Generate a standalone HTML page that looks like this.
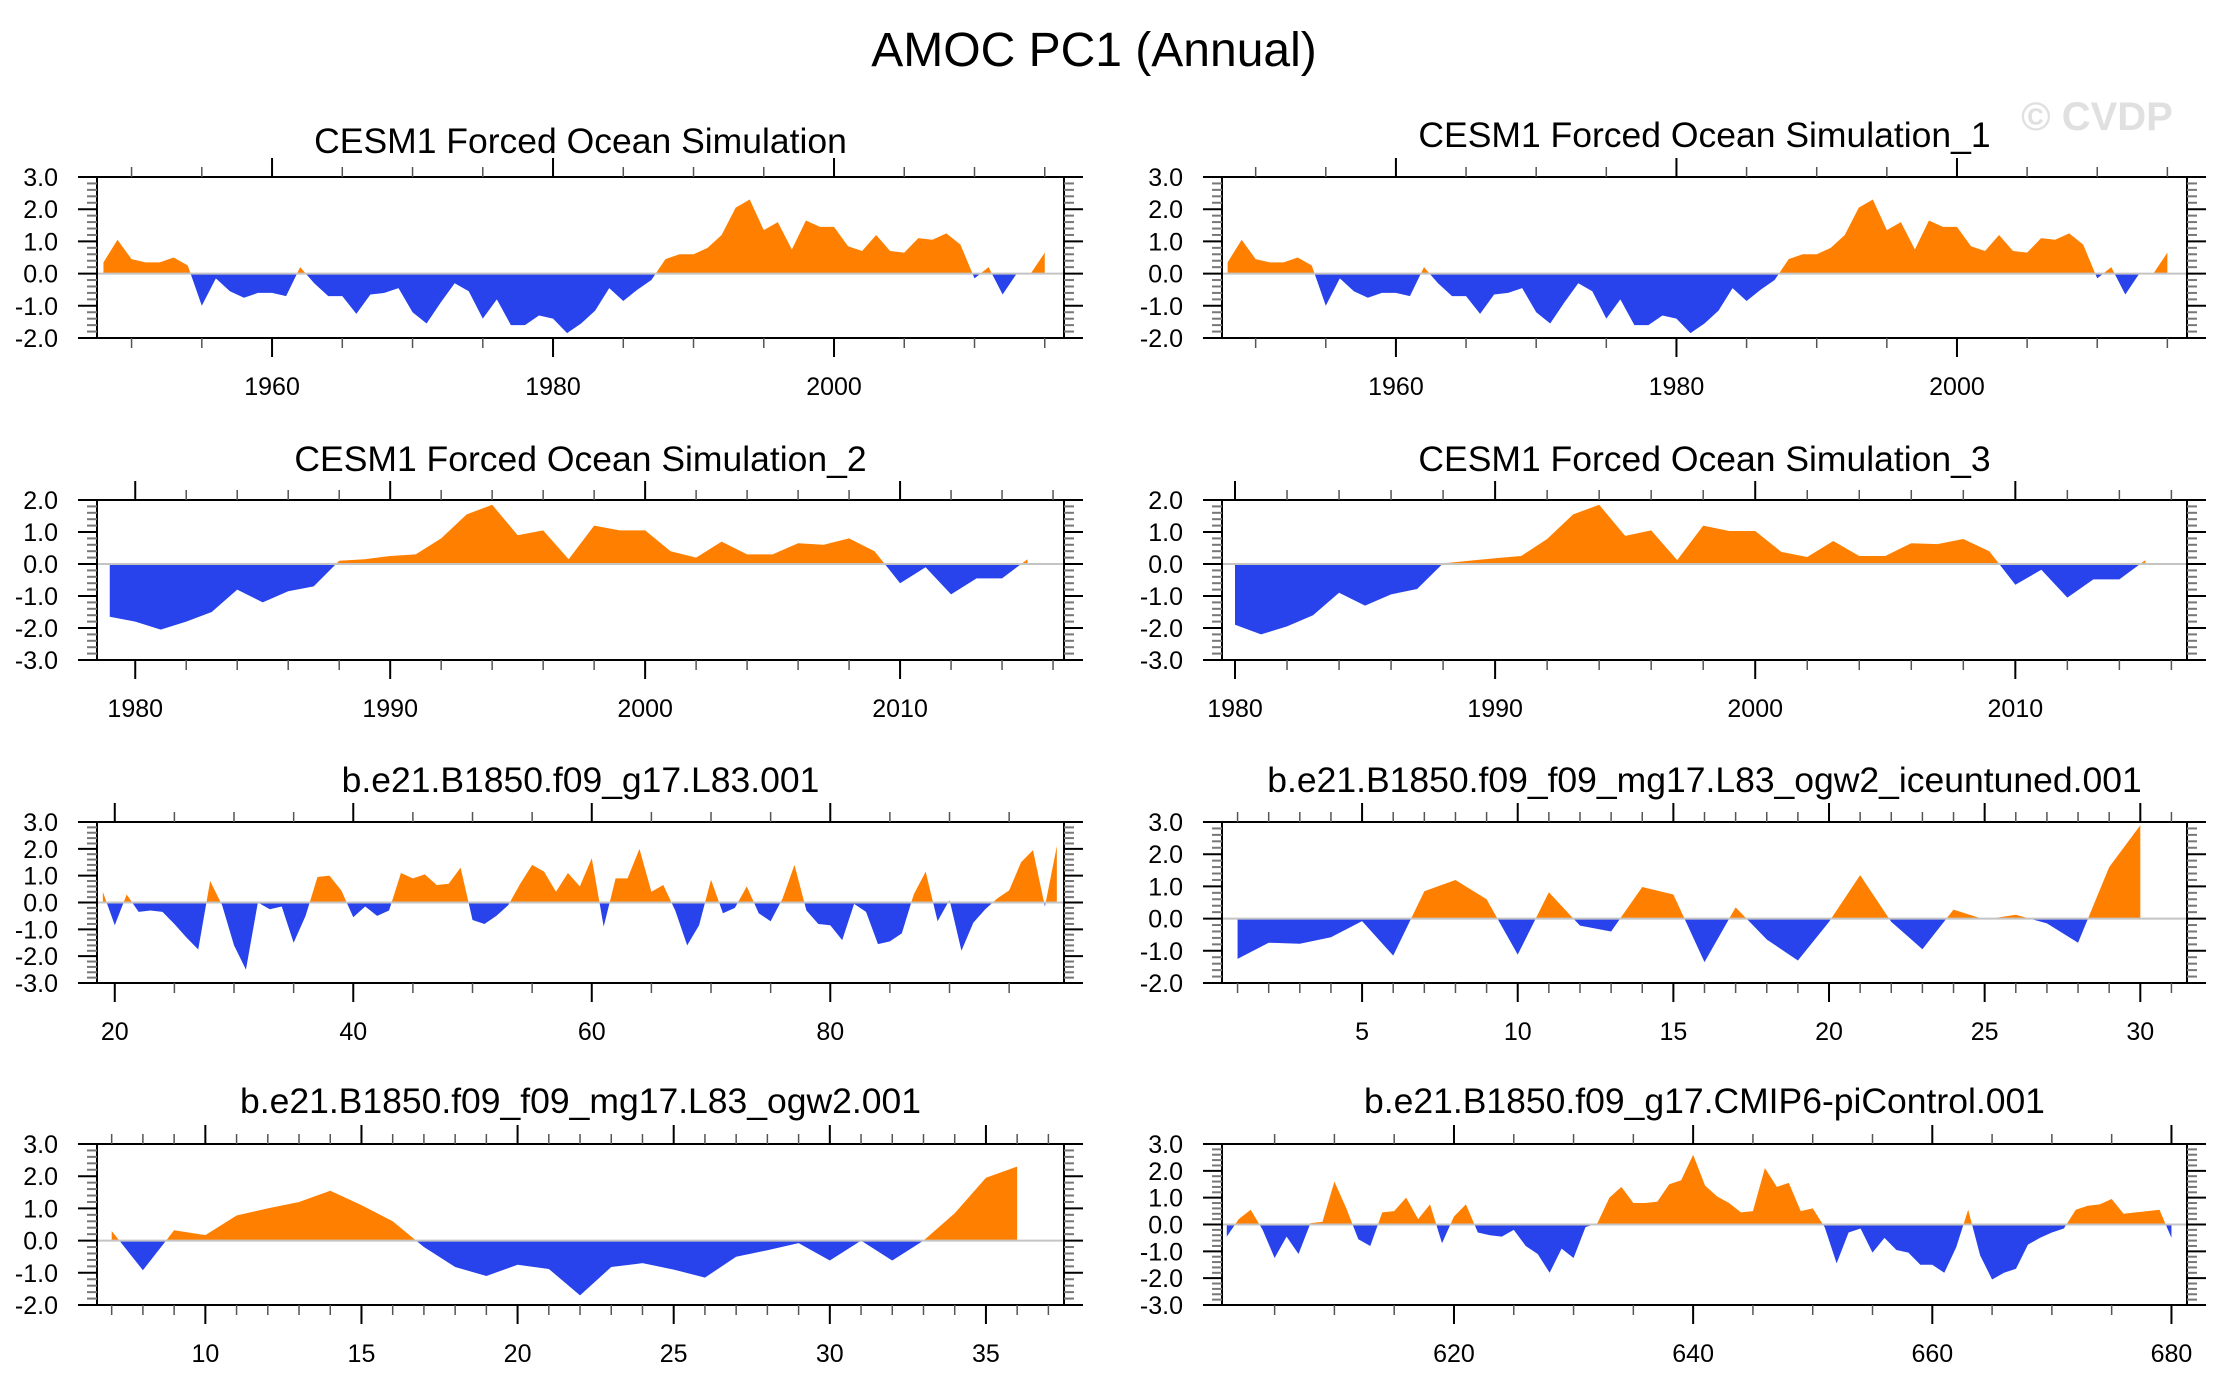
<!DOCTYPE html>
<html>
<head>
<meta charset="utf-8">
<style>
  html,body{margin:0;padding:0;background:#fff;}
  svg{display:block;font-family:"Liberation Sans",Arial,sans-serif;}
</style>
</head>
<body>
<svg id="chart" width="2224" height="1394" viewBox="0 0 2224 1394" xmlns="http://www.w3.org/2000/svg">
  <rect x="0" y="0" width="2224" height="1394" fill="#fff"/>
  <text x="1094" y="66" font-size="48" text-anchor="middle" fill="#000">AMOC PC1 (Annual)</text>
  <text x="2097" y="130" font-size="40" font-weight="bold" text-anchor="middle" fill="#e0e0e0">© CVDP</text>
</svg>
<script>
// ---- data ----
const p1Start = 1948;
const p1Values = [0.35,1.05,0.45,0.35,0.35,0.5,0.25,-1.0,-0.15,-0.55,-0.75,-0.6,-0.6,-0.7,0.2,-0.3,-0.7,-0.7,-1.25,-0.65,-0.6,-0.45,-1.2,-1.55,-0.9,-0.3,-0.55,-1.4,-0.8,-1.6,-1.6,-1.3,-1.4,-1.85,-1.55,-1.15,-0.45,-0.85,-0.5,-0.2,0.45,0.6,0.6,0.8,1.2,2.05,2.3,1.35,1.6,0.75,1.65,1.45,1.45,0.85,0.7,1.2,0.7,0.65,1.1,1.05,1.25,0.9,-0.15,0.2,-0.65,0.0,0.0,0.65];
const p2Start = 1948;
const p2Values = [0.35,1.05,0.45,0.35,0.35,0.5,0.25,-1.0,-0.15,-0.55,-0.75,-0.6,-0.6,-0.7,0.2,-0.3,-0.7,-0.7,-1.25,-0.65,-0.6,-0.45,-1.2,-1.55,-0.9,-0.3,-0.55,-1.4,-0.8,-1.6,-1.6,-1.3,-1.4,-1.85,-1.55,-1.15,-0.45,-0.85,-0.5,-0.2,0.45,0.6,0.6,0.8,1.2,2.05,2.3,1.35,1.6,0.75,1.65,1.45,1.45,0.85,0.7,1.2,0.7,0.65,1.1,1.05,1.25,0.9,-0.15,0.2,-0.65,0.0,0.0,0.65];
const p3Start = 1979;
const p3Values = [-1.65,-1.8,-2.05,-1.8,-1.5,-0.8,-1.2,-0.85,-0.7,0.1,0.15,0.25,0.3,0.8,1.55,1.85,0.9,1.05,0.15,1.2,1.05,1.05,0.4,0.2,0.7,0.3,0.3,0.65,0.6,0.8,0.4,-0.6,-0.1,-0.95,-0.45,-0.45,0.15];
const p4Start = 1980;
const p4Values = [-1.9,-2.2,-1.95,-1.6,-0.9,-1.3,-0.95,-0.78,0.02,0.1,0.18,0.25,0.78,1.55,1.85,0.88,1.05,0.12,1.2,1.03,1.03,0.38,0.22,0.72,0.25,0.25,0.65,0.62,0.78,0.4,-0.65,-0.18,-1.05,-0.48,-0.48,0.12];
const p5Start = 19;
const p5Values = [0.4,-0.85,0.3,-0.35,-0.3,-0.35,-0.8,-1.3,-1.75,0.8,-0.1,-1.6,-2.5,0.0,-0.25,-0.15,-1.5,-0.5,0.95,1.0,0.45,-0.55,-0.15,-0.5,-0.3,1.1,0.9,1.05,0.65,0.7,1.3,-0.65,-0.8,-0.5,-0.1,0.7,1.4,1.15,0.4,1.1,0.6,1.65,-0.9,0.9,0.9,2.0,0.4,0.65,-0.3,-1.6,-0.85,0.85,-0.4,-0.2,0.6,-0.4,-0.7,0.15,1.4,-0.3,-0.8,-0.85,-1.4,-0.05,-0.35,-1.55,-1.45,-1.15,0.3,1.15,-0.7,0.1,-1.8,-0.75,-0.25,0.15,0.45,1.5,1.95,-0.15,2.1];
const p6Start = 1;
const p6Values = [-1.25,-0.75,-0.78,-0.58,-0.08,-1.15,0.85,1.2,0.6,-1.12,0.82,-0.22,-0.4,0.98,0.75,-1.35,0.35,-0.65,-1.3,-0.1,1.35,-0.1,-0.95,0.28,-0.03,0.12,-0.15,-0.75,1.6,2.9];
const p7Start = 7;
const p7Values = [0.3,-0.92,0.32,0.17,0.78,1.0,1.2,1.55,1.1,0.6,-0.2,-0.82,-1.1,-0.75,-0.88,-1.7,-0.82,-0.7,-0.9,-1.15,-0.5,-0.3,-0.08,-0.62,0.0,-0.62,0.0,0.85,1.95,2.3];
const p8Start = 601;
const p8Values = [-0.45,0.2,0.55,-0.2,-1.25,-0.45,-1.1,0.05,0.1,1.6,0.6,-0.55,-0.8,0.45,0.5,1.0,0.2,0.75,-0.7,0.3,0.75,-0.3,-0.4,-0.45,-0.2,-0.8,-1.1,-1.8,-0.9,-1.25,-0.1,0.05,1.0,1.4,0.8,0.8,0.85,1.5,1.65,2.6,1.45,1.05,0.8,0.45,0.5,2.1,1.4,1.55,0.5,0.6,-0.1,-1.45,-0.3,-0.15,-1.05,-0.5,-0.95,-1.05,-1.5,-1.5,-1.8,-0.85,0.55,-1.15,-2.05,-1.8,-1.65,-0.75,-0.5,-0.3,-0.15,0.55,0.7,0.75,0.95,0.4,0.45,0.5,0.55,-0.5];

const p1XLabels = [1960,1980,2000];
const p3XLabels = [1980,1990,2000,2010];
const p5XLabels = [20,40,60,80];
const p6XLabels = [5,10,15,20,25,30];
const p7XLabels = [10,15,20,25,30,35];
const p8XLabels = [620,640,660,680];

const NS = "http://www.w3.org/2000/svg";
const svg = document.getElementById("chart");
function mk(tag, attrs, parent) {
  const e = document.createElementNS(NS, tag);
  for (const k in attrs) e.setAttribute(k, attrs[k]);
  (parent || svg).appendChild(e);
  return e;
}

function drawPanel(c, idx, start, values, xLabels) {
  const g = mk("g", {});
  
  
  const xs = v => c.x0 + (v - c.xmin) / (c.xmax - c.xmin) * (c.x1 - c.x0);
  const ys = v => c.y1 - (v - c.ymin) / (c.ymax - c.ymin) * (c.y1 - c.y0);
  const y0 = ys(0);

  // title
  const t = mk("text", {x: (c.x0 + c.x1) / 2, y: c.tb, "font-size": 35.5, "text-anchor": "middle", fill: "#000"}, g);
  
  
  t.textContent = c.title;

  // clip paths
  const defs = mk("defs", {}, g);
  const cpA = mk("clipPath", {id: "ca" + idx}, defs);
  mk("rect", {x: c.x0, y: c.y0, width: c.x1 - c.x0, height: y0 - c.y0}, cpA);
  const cpB = mk("clipPath", {id: "cb" + idx}, defs);
  mk("rect", {x: c.x0, y: y0, width: c.x1 - c.x0, height: c.y1 - y0}, cpB);

  let d = "M" + xs(start).toFixed(2) + "," + y0.toFixed(2);
  for (let i = 0; i < values.length; i++) d += " L" + xs(start + i).toFixed(2) + "," + ys(values[i]).toFixed(2);
  d += " L" + xs(start + values.length - 1).toFixed(2) + "," + y0.toFixed(2) + " Z";
  const pos = mk("path", {d: d, fill: "#ff8000", "clip-path": "url(#ca" + idx + ")"}, g);
  
  
  const neg = mk("path", {d: d, fill: "#2843eb", "clip-path": "url(#cb" + idx + ")"}, g);
  
  

  // zero line
  const zl = mk("line", {x1: c.x0, x2: c.x1, y1: y0, y2: y0, stroke: "#c4c4c4", "stroke-width": 2}, g);
  
  

  // frame
  const fr = mk("rect", {x: c.x0, y: c.y0, width: c.x1 - c.x0, height: c.y1 - c.y0, fill: "none", stroke: "#000", "stroke-width": 2}, g);
  
  

  // y ticks
  for (let v = c.ymin; v <= c.ymax + 1e-6; v += 0.2) {
    const r = Math.round(v * 10) / 10;
    const y = ys(r);
    const major = Math.abs(r - Math.round(r)) < 1e-6;
    const L = major ? 19 : 10;
    const col = major ? "#000" : "#777";
    mk("line", {x1: c.x0 - L, x2: c.x0, y1: y, y2: y, stroke: col, "stroke-width": 2}, g);
    mk("line", {x1: c.x1, x2: c.x1 + L, y1: y, y2: y, stroke: col, "stroke-width": 2}, g);
    if (major) {
      const lt = mk("text", {x: c.x0 - 39, y: y + 9, "font-size": 25, "text-anchor": "end", fill: "#000"}, g);
      
      
      lt.textContent = r.toFixed(1);
    }
  }
  // x minor ticks
  for (let v = c.mstart; v <= c.xmax; v += c.mstep) {
    const x = xs(v);
    mk("line", {x1: x, x2: x, y1: c.y0 - 10, y2: c.y0, stroke: "#555", "stroke-width": 1.5}, g);
    mk("line", {x1: x, x2: x, y1: c.y1, y2: c.y1 + 10, stroke: "#555", "stroke-width": 1.5}, g);
  }
  // x major ticks + labels
  for (const v of xLabels) {
    const x = xs(v);
    mk("line", {x1: x, x2: x, y1: c.y0 - 19, y2: c.y0, stroke: "#000", "stroke-width": 2}, g);
    mk("line", {x1: x, x2: x, y1: c.y1, y2: c.y1 + 19, stroke: "#000", "stroke-width": 2}, g);
    const lt = mk("text", {x: x, y: c.y1 + 57, "font-size": 25, "text-anchor": "middle", fill: "#000"}, g);
    
    
    lt.textContent = v;
  }
}

const L0 = 97, L1 = 1064, R0 = 1222, R1 = 2187;
drawPanel({slug:"cesm1-forced-ocean", title:"CESM1 Forced Ocean Simulation", tb:153, x0:L0, x1:L1, y0:177, y1:338, xmin:1947.54, xmax:2016.37, ymin:-2, ymax:3, mstart:1950, mstep:5}, 1, p1Start, p1Values, p1XLabels);
drawPanel({slug:"cesm1-forced-ocean-1", title:"CESM1 Forced Ocean Simulation_1", tb:147, x0:R0, x1:R1, y0:177, y1:338, xmin:1947.6, xmax:2016.4, ymin:-2, ymax:3, mstart:1950, mstep:5}, 2, p2Start, p2Values, p1XLabels);
drawPanel({slug:"cesm1-forced-ocean-2", title:"CESM1 Forced Ocean Simulation_2", tb:471, x0:L0, x1:L1, y0:500, y1:660, xmin:1978.5, xmax:2016.43, ymin:-3, ymax:2, mstart:1980, mstep:2}, 3, p3Start, p3Values, p3XLabels);
drawPanel({slug:"cesm1-forced-ocean-3", title:"CESM1 Forced Ocean Simulation_3", tb:471, x0:R0, x1:R1, y0:500, y1:660, xmin:1979.5, xmax:2016.6, ymin:-3, ymax:2, mstart:1980, mstep:2}, 4, p4Start, p4Values, p3XLabels);
drawPanel({slug:"b1850-g17-l83", title:"b.e21.B1850.f09_g17.L83.001", tb:792, x0:L0, x1:L1, y0:822, y1:983, xmin:18.51, xmax:99.6, ymin:-3, ymax:3, mstart:20, mstep:5}, 5, p5Start, p5Values, p5XLabels);
drawPanel({slug:"b1850-ogw2-iceuntuned", title:"b.e21.B1850.f09_f09_mg17.L83_ogw2_iceuntuned.001", tb:792, x0:R0, x1:R1, y0:822, y1:983, xmin:0.5, xmax:31.5, ymin:-2, ymax:3, mstart:1, mstep:1}, 6, p6Start, p6Values, p6XLabels);
drawPanel({slug:"b1850-ogw2", title:"b.e21.B1850.f09_f09_mg17.L83_ogw2.001", tb:1113, x0:L0, x1:L1, y0:1144, y1:1305, xmin:6.53, xmax:37.5, ymin:-2, ymax:3, mstart:7, mstep:1}, 7, p7Start, p7Values, p7XLabels);
drawPanel({slug:"b1850-picontrol", title:"b.e21.B1850.f09_g17.CMIP6-piControl.001", tb:1113, x0:R0, x1:R1, y0:1144, y1:1305, xmin:600.6, xmax:681.3, ymin:-3, ymax:3, mstart:605, mstep:5}, 8, p8Start, p8Values, p8XLabels);
</script>
</body>
</html>
